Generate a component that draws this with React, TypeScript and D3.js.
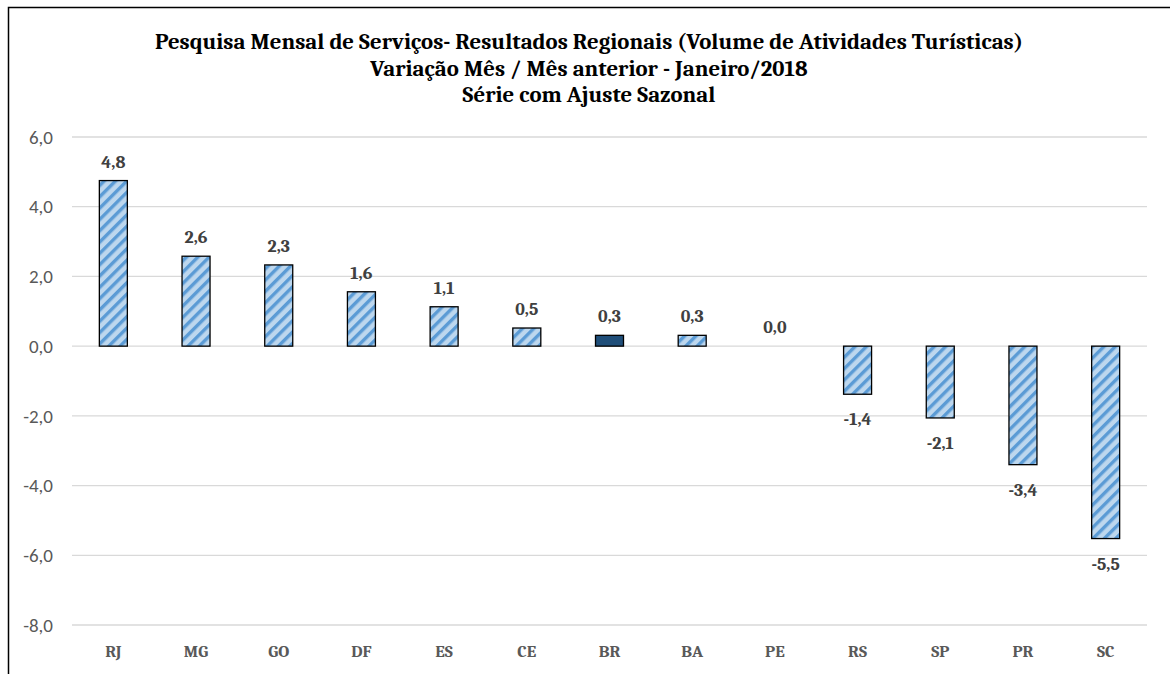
import React from "react";
import { scaleBand, scaleLinear } from "d3";

const states = ["RJ", "MG", "GO", "DF", "ES", "CE", "BR", "BA", "PE", "RS", "SP", "PR", "SC"];
const changes = [4.75, 2.58, 2.33, 1.56, 1.13, 0.52, 0.31, 0.31, 0.0, -1.38, -2.06, -3.4, -5.52];
const labels = ["4,8", "2,6", "2,3", "1,6", "1,1", "0,5", "0,3", "0,3", "0,0", "-1,4", "-2,1", "-3,4", "-5,5"];
const yTicks = [6, 4, 2, 0, -2, -4, -6, -8];
const titleLines = [
  "Pesquisa Mensal de Serviços- Resultados Regionais (Volume de Atividades Turísticas)",
  "Variação Mês / Mês anterior  - Janeiro/2018",
  "Série com Ajuste Sazonal",
];

const serif = "Cambria, 'Liberation Serif', serif";
const sans = "Calibri, Carlito, 'Liberation Sans', sans-serif";

export default function App() {
  const width = 1170,
    height = 674;
  const plot = { left: 72, right: 1147, top: 137, bottom: 625 };

  const x = scaleBand().domain(states).range([plot.left, plot.right]);
  const y = scaleLinear().domain([-8, 6]).range([plot.bottom, plot.top]);
  const barW = 28;

  return (
    <svg
      width={width}
      height={height}
      style={{ position: "absolute", left: 0, top: 0, background: "#fff" }}
    >
      <defs>
        <pattern
          id="stripes"
          patternUnits="userSpaceOnUse"
          width={8}
          height={8}
          patternTransform="rotate(45)"
        >
          <rect width={8} height={8} fill="#bdd7ee" />
          <rect width={3.4} height={8} fill="#5b9bd5" />
        </pattern>
      </defs>

      {/* frame */}
      <path d="M8.5,674 V7.5 H1170" fill="none" stroke="#000" strokeWidth={1.5} />

      {titleLines.map((t, i) => (
        <text
          key={i}
          x={589}
          y={49 + i * 26.5}
          textAnchor="middle"
          fontFamily={serif}
          fontWeight="bold"
          fontSize={22.8}
          fill="#000"
        >
          {t}
        </text>
      ))}

      {yTicks.map(t => (
        <g key={t}>
          <line x1={plot.left} x2={plot.right} y1={y(t)} y2={y(t)} stroke="#d9d9d9" strokeWidth={1.3} />
          <text
            x={53}
            y={y(t)}
            dy="0.35em"
            textAnchor="end"
            fontFamily={sans}
            fontSize={19}
            fill="#595959"
          >
            {t.toFixed(1).replace(".", ",")}
          </text>
        </g>
      ))}

      {states.map((s, i) => {
        const v = changes[i];
        const cx = (x(s) as number) + x.bandwidth() / 2;
        const y0 = y(0),
          y1 = y(v);
        const top = Math.min(y0, y1);
        const h = Math.abs(y1 - y0);
        return (
          <g key={s}>
            {h > 0.5 && (
              <rect
                x={cx - barW / 2}
                y={top}
                width={barW}
                height={h}
                fill={s === "BR" ? "#1f4e79" : "url(#stripes)"}
                stroke="#000"
                strokeWidth={1.3}
              />
            )}
            <text
              x={cx}
              y={v >= 0 ? y1 - 13 : y1 + 31}
              textAnchor="middle"
              fontFamily={serif}
              fontWeight="bold"
              fontSize={18}
              fill="#404040"
            >
              {labels[i]}
            </text>
            <text
              x={cx}
              y={657}
              textAnchor="middle"
              fontFamily={serif}
              fontWeight="bold"
              fontSize={17}
              fill="#595959"
            >
              {s}
            </text>
          </g>
        );
      })}
    </svg>
  );
}
